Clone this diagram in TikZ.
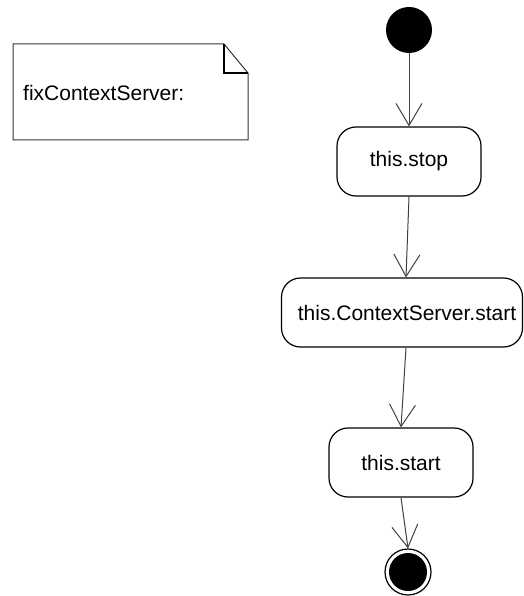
\documentclass[tikz,border=0pt]{standalone}
\usepackage{fontspec}
\setmainfont{Liberation Sans}
\usetikzlibrary{arrows.meta}
\tikzset{
  action/.style={draw=black, line width=1.2pt, rounded corners=19pt, minimum height=69pt,
    inner sep=0pt, font=\fontsize{21}{25}\selectfont},
  flow/.style={draw=black!75, line width=1pt,
    -{Straight Barb[length=22pt, width=26pt, line width=1pt]}},
  notebox/.style={draw=black!80, line width=1pt, fill=white},
}
\begin{document}
\begin{tikzpicture}[x=1pt, y=-1pt]
  \useasboundingbox (0,0) rectangle (523,596);

  % comment note with folded corner
  \draw[notebox] (13,44) -- (224,44) -- (248,73) -- (248,140) -- (13,140) -- cycle;
  \draw[black, line width=1.2pt] (224,44) -- (224,73) -- (248,73);
  \node[anchor=west, inner sep=0pt, font=\fontsize{21}{25}\selectfont] (note) at (23,93) {fixContextServer:};

  % initial state
  \node[circle, fill=black, minimum size=46pt, inner sep=0pt] (init) at (409,30) {};

  % actions
  \node[action, minimum width=144pt] (stop) at (409,161.5) {this.stop};
  \node[action, minimum width=241pt] (cs) at (402,312.5) {\hspace*{10pt}this.ContextServer.start};
  \node[action, minimum width=144pt] (start) at (401,462.5) {this.start};

  % final state
  \node[circle, draw=black, line width=1.2pt, fill=white, minimum size=46pt, inner sep=0pt] (final) at (408,572) {};
  \node[circle, fill=black, minimum size=38pt, inner sep=0pt] (finaldot) at (final) {};

  % control flow
  \draw[flow] (init) -- (stop.north);
  \draw[flow] (stop.south) -- ([xshift=4pt]cs.north);
  \draw[flow] ([xshift=4pt]cs.south) -- (start.north);
  \draw[flow] (start.south) -- (final.north);
\end{tikzpicture}
\end{document}
